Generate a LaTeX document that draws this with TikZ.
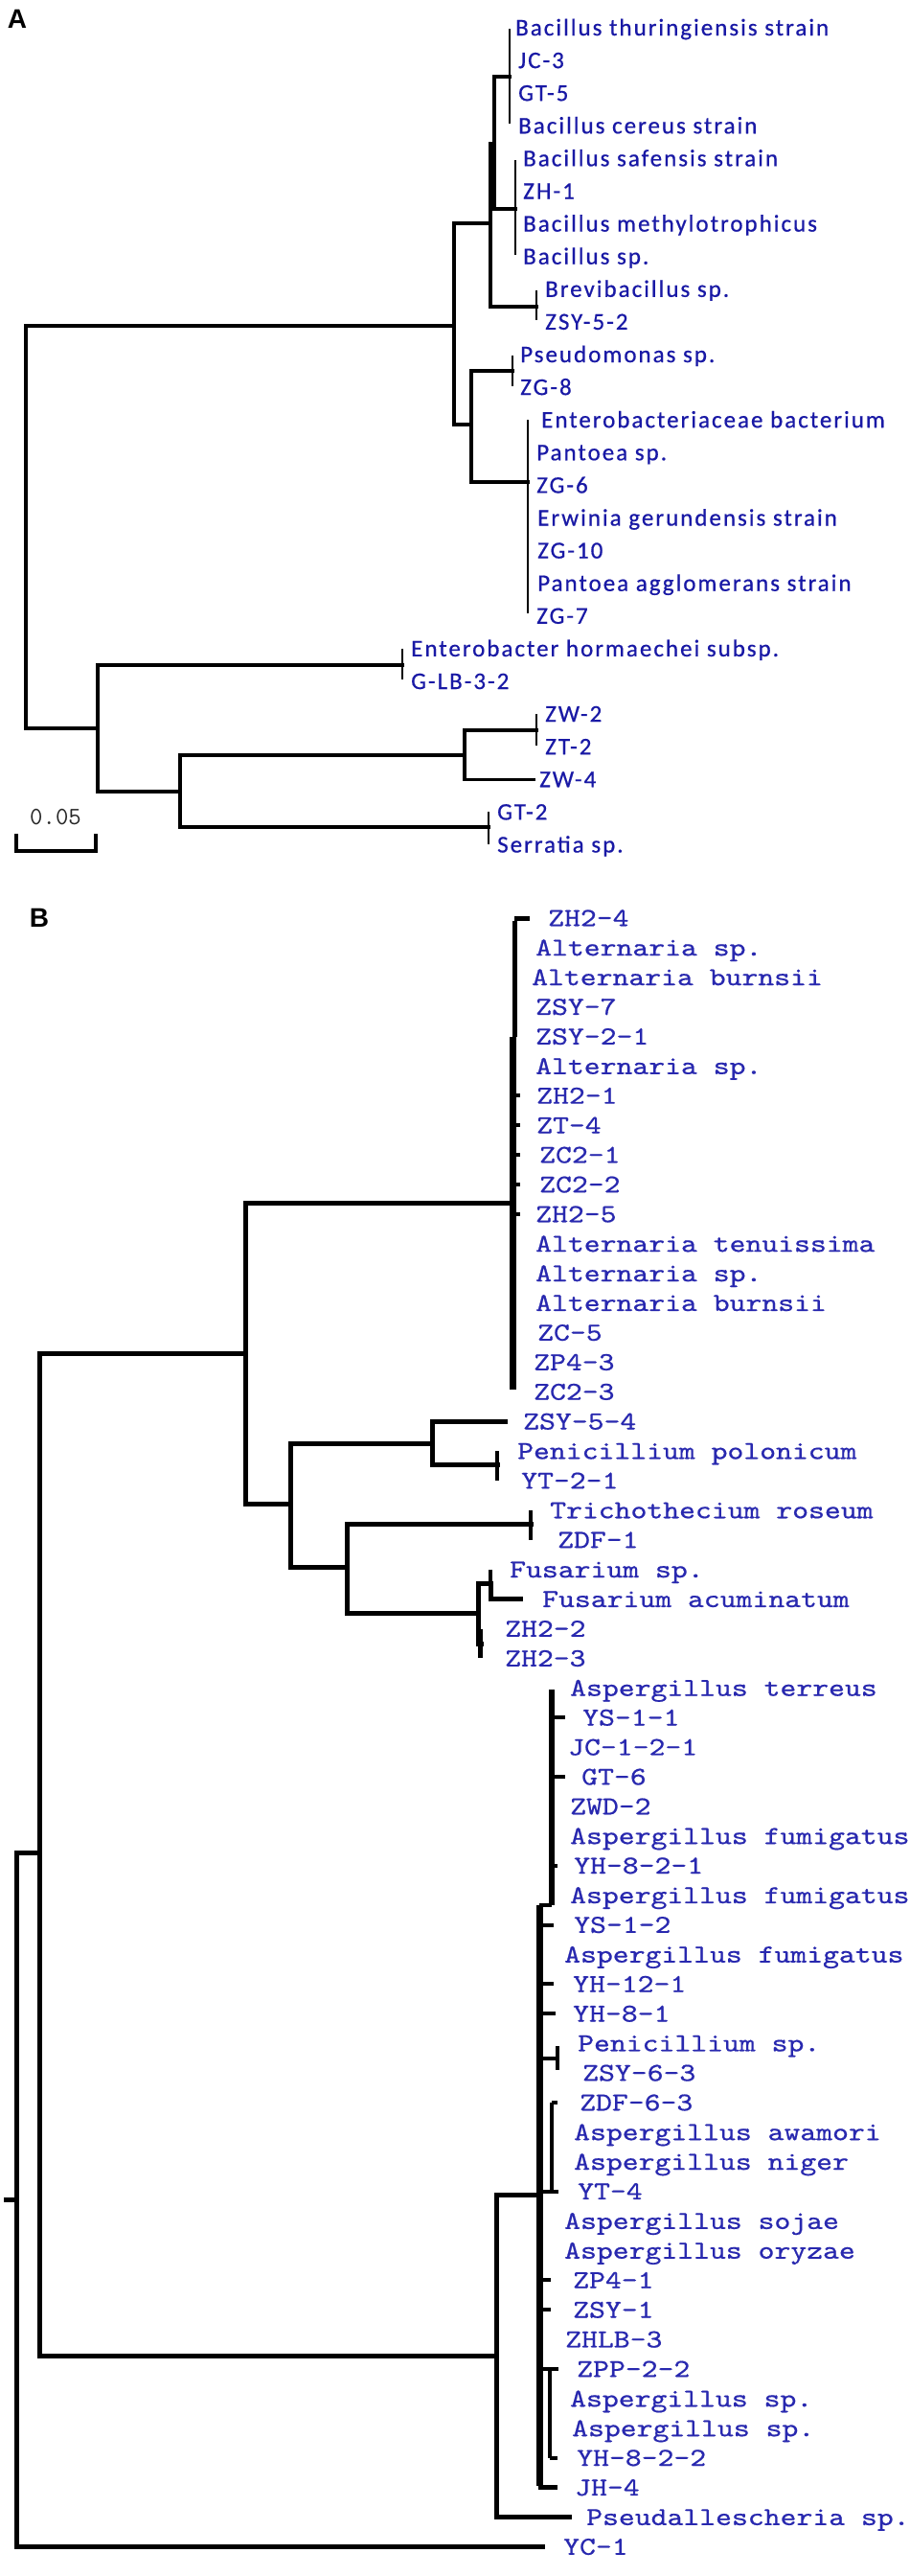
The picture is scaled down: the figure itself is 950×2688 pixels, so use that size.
\documentclass[tikz,border=0pt]{standalone}
\usepackage{fontspec}
\usepackage{graphicx}
\setmainfont{Liberation Sans}
\newfontfamily\afont[LetterSpace=8,FakeBold=0.6]{Carlito}
\newfontfamily\bmono[FakeBold=0.6]{lmmono10-regular.otf}
\definecolor{blueA}{RGB}{25,25,165}
\definecolor{blueB}{RGB}{40,40,175}
\newcommand{\bl}[1]{\scalebox{1.19}[1]{#1}}
\tikzset{
  brA/.style={line width=3.5pt, line cap=rect},
  lfA/.style={line width=2.6pt},
  brB/.style={line width=5pt, line cap=rect},
  tkB/.style={line width=4pt},
  labA/.style={anchor=west, inner sep=0pt, text height=19pt, text depth=3pt,
    font=\afont\fontsize{25}{26}\selectfont, text=blueA},
  labB/.style={anchor=west, inner sep=0pt, text height=20pt, text depth=3.5pt,
    font=\fontsize{27}{28}\selectfont\bmono, text=blueB},
  panel/.style={inner sep=0pt, font=\bfseries\fontsize{28}{30}\selectfont}
}
\begin{document}
\begin{tikzpicture}[x=1pt,y=-1pt]
\useasboundingbox (0,0) rectangle (950,2688);
\fill[white] (0,0) rectangle (950,2688);

% ---------------- Panel A ----------------
\node[panel] (PA) at (18,20) {A};
\foreach \t/\x [count=\i from 0] in {
  Bacillus thuringiensis strain/538, JC-3/541, GT-5/541, Bacillus cereus strain/541,
  Bacillus safensis strain/546, ZH-1/546, Bacillus methylotrophicus/546, Bacillus sp./546,
  Brevibacillus sp./569, ZSY-5-2/569, Pseudomonas sp./543, ZG-8/543,
  Enterobacteriaceae bacterium/565, Pantoea sp./560, ZG-6/560, Erwinia gerundensis strain/561,
  ZG-10/561, Pantoea agglomerans strain/561, ZG-7/560, Enterobacter hormaechei subsp./429,
  G-LB-3-2/429, ZW-2/569, ZT-2/569, ZW-4/563, GT-2/519, Serratia sp./519}
  \node[labA] (A\i) at ({\x},{29+34.1*\i}) {\t};

\coordinate (rA) at (27,550);
\coordinate (a1) at (474,340);
\coordinate (a2) at (512,233);
\coordinate (a3) at (516,150);
\coordinate (a4) at (532,80);
\coordinate (a5) at (538,218);
\coordinate (a6) at (560,320);
\coordinate (a7) at (492,443);
\coordinate (a8) at (535,387);
\coordinate (a9) at (551,503);
\coordinate (b1) at (102,760);
\coordinate (b2) at (420,694);
\coordinate (b3) at (188,826);
\coordinate (b4) at (485,788);
\coordinate (b5) at (560,762);
\coordinate (b6) at (510,863);

\draw[brA] (rA) |- (a1);
\draw[brA] (rA) |- (b1);
\draw[brA] (a1) |- (a2);
\draw[brA] (a1) |- (a7);
\draw[brA] (a2) |- (a3);
\draw[brA] (a2) |- (a6);
\draw[brA] (a3) |- (a4);
\draw[brA] (a3) |- (a5);
\draw[brA] (a7) |- (a8);
\draw[brA] (a7) |- (a9);
\draw[brA] (b1) |- (b2);
\draw[brA] (b1) |- (b3);
\draw[brA] (b3) |- (b4);
\draw[brA] (b3) |- (b6);
\draw[brA] (b4) |- (b5);
\draw[brA] (b4) |- ([xshift=-6pt]A23.west);

\draw[lfA] ([yshift=-1pt]a4 |- A0.west) -- ([yshift=2pt]a4 |- A3.west);
\draw[lfA] ([yshift=-2pt]a5 |- A4.west) -- ([yshift=2pt]a5 |- A7.west);
\draw[lfA] ([yshift=-1pt]a6 |- A8.west) -- ([yshift=2pt]a6 |- A9.west);
\draw[lfA] ([yshift=-1pt]a8 |- A10.west) -- ([yshift=1pt]a8 |- A11.west);
\draw[lfA] (a9 |- A12.west) -- ([yshift=3pt]a9 |- A18.west);
\draw[lfA] (b2 |- A19.west) -- ([yshift=2pt]b2 |- A20.west);
\draw[lfA] (b5 |- A21.west) -- ([yshift=1pt]b5 |- A22.west);
\draw[lfA] (b6 |- A24.west) -- ([yshift=1pt]b6 |- A25.west);

% scale bar
\coordinate (s1) at (17,870);
\coordinate (s2) at (17,888);
\coordinate (s3) at (100,888);
\coordinate (s4) at (100,870);
\draw[line width=3.5pt] (s1) -- (s2) -- (s3) -- (s4);
\node[inner sep=0pt, text=black!85, font=\fontsize{26}{28}\selectfont\ttfamily] (sc) at (58,853) {0.05};

% ---------------- Panel B ----------------
\node[panel] (PB) at (41,958) {B};
\foreach \t/\x [count=\i from 0] in {
  ZH2-4/572, Alternaria sp./559, Alternaria burnsii/555, ZSY-7/559, ZSY-2-1/559,
  Alternaria sp./559, ZH2-1/560, ZT-4/560, ZC2-1/563, ZC2-2/563, ZH2-5/559,
  Alternaria tenuissima/559, Alternaria sp./559, Alternaria burnsii/559, ZC-5/561,
  ZP4-3/557, ZC2-3/557, ZSY-5-4/546, Penicillium polonicum/540, YT-2-1/544,
  Trichothecium roseum/574, ZDF-1/582, Fusarium sp./532, Fusarium acuminatum/566,
  ZH2-2/527, ZH2-3/527, Aspergillus terreus/595, YS-1-1/608, JC-1-2-1/593, GT-6/607,
  ZWD-2/595, Aspergillus fumigatus/595, YH-8-2-1/599, Aspergillus fumigatus/595,
  YS-1-2/599, Aspergillus fumigatus/589, YH-12-1/598, YH-8-1/598, Penicillium sp./603,
  ZSY-6-3/608, ZDF-6-3/605, Aspergillus awamori/599, Aspergillus niger/599, YT-4/603,
  Aspergillus sojae/589, Aspergillus oryzae/589, ZP4-1/598, ZSY-1/598, ZHLB-3/590,
  ZPP-2-2/602, Aspergillus sp./595, Aspergillus sp./597, YH-8-2-2/602, JH-4/600,
  Pseudallescheria sp./612, YC-1/588}
  \node[labB] (B\i) at ({\x},{958+30.9*\i}) {\bl{\t}};

\coordinate (rstub) at (6,2295);
\coordinate (rB) at (17,2295);
\coordinate (c1) at (41,1933);
\coordinate (c2) at (256,1412);
\coordinate (c3) at (536,1255);
\coordinate (c4) at (303,1569);
\coordinate (c5) at (451,1506);
\coordinate (c6) at (519,1528);
\coordinate (c7) at (362,1635);
\coordinate (c8) at (554,1590);
\coordinate (c9) at (499,1683);
\coordinate (c10) at (512,1652);
\coordinate (c11) at (502,1715);
\coordinate (c12) at (518,2458);
\coordinate (c13) at (563,2290);

\draw[brB] (rstub) -- (rB);
\draw[brB] (rB) |- (c1);
\draw[brB] (rB) |- ([xshift=-22pt]B55.west);
\draw[brB] (c1) |- (c2);
\draw[brB] (c1) |- (c12);
\draw[brB] (c2) |- (c3);
\draw[brB] (c2) |- (c4);
\draw[brB] (c4) |- (c5);
\draw[brB] (c4) |- (c7);
\draw[brB] (c5) |- ([xshift=-19pt]B17.west);
\draw[brB] (c5) |- (c6);
\draw[brB] (c7) |- (c8);
\draw[brB] (c7) |- (c9);
\draw[brB] (c9) |- (c10);
\draw[brB] (c9) |- (c11);
\draw[brB] (c10) |- ([xshift=-23pt]B23.west);
\draw[brB] (c12) |- (c13);
\draw[brB] (c12) |- ([xshift=-18pt]B54.west);

% Alternaria clade
\draw[line width=5pt] ([xshift=1pt,yshift=-3pt]c3 |- B0.west) -- ([xshift=1pt]c3 |- B4.west);
\draw[line width=7pt] ([xshift=-1pt]c3 |- B4.west) -- ([xshift=-1pt,yshift=2pt]c3 |- B16.west);
\draw[line width=5pt] ([xshift=1pt]c3 |- B0.west) -- ([xshift=-19pt]B0.west);
\foreach \k in {6,7,8,9,10}
  \draw[tkB] (c3 |- B\k.west) -- ([xshift=7pt]c3 |- B\k.west);

% small clades
\draw[line width=3.5pt] (c6 |- B18.west) -- (c6 |- B19.west);
\draw[line width=3.5pt] (c8 |- B20.west) -- (c8 |- B21.west);
\draw[line width=4pt] (c10 |- B22.west) -- (c10 |- B23.west);
\draw[line width=5pt] ([xshift=-1pt]c11 |- B24.west) -- ([xshift=-1pt,yshift=1pt]c11 |- B25.west);

% Aspergillus clade
\coordinate (d1) at (576,1988);
\draw[line width=6pt] ([yshift=-2pt]d1 |- B26.west) -- (d1);
\draw[line width=7pt] (c13 |- d1) -- ([yshift=2pt]c13 |- B53.west);
\draw[line width=4pt] (c13 |- d1) -- (d1);
\draw[tkB] (d1 |- B27.west) -- ([xshift=14pt]d1 |- B27.west);
\draw[tkB] (d1 |- B29.west) -- ([xshift=14pt]d1 |- B29.west);
\draw[tkB] (d1 |- B32.west) -- ([xshift=6pt]d1 |- B32.west);
\draw[tkB] (c13 |- B34.west) -- ([xshift=15pt]c13 |- B34.west);
\draw[tkB] (c13 |- B36.west) -- ([xshift=15pt]c13 |- B36.west);
\draw[tkB] (c13 |- B37.west) -- ([xshift=17pt]c13 |- B37.west);
\coordinate (d2) at (582,2148);
\draw[tkB] (c13 |- d2) -- (d2);
\draw[line width=4pt] ([yshift=-3pt]d2 |- B38.west) -- ([yshift=3pt]d2 |- B39.west);
\coordinate (d3) at (576,2240);
\draw[line width=4pt] (d3 |- B40.west) -- (d3 |- B43.west);
\draw[tkB] (d3 |- B40.west) -- ([xshift=6pt]d3 |- B40.west);
\draw[tkB] (c13 |- B43.west) -- ([xshift=20pt]c13 |- B43.west);
\draw[tkB] (c13 |- B46.west) -- ([xshift=12pt]c13 |- B46.west);
\draw[tkB] (c13 |- B47.west) -- ([xshift=12pt]c13 |- B47.west);
\coordinate (d4) at (574,2520);
\draw[line width=4pt] (d4 |- B49.west) -- (d4 |- B52.west);
\draw[tkB] (c13 |- B49.west) -- ([xshift=20pt]c13 |- B49.west);
\draw[tkB] (d4 |- B52.west) -- ([xshift=8pt]d4 |- B52.west);
\draw[line width=5pt] ([xshift=-1pt]c13 |- B53.west) -- ([xshift=19pt]c13 |- B53.west);
\end{tikzpicture}
\end{document}
